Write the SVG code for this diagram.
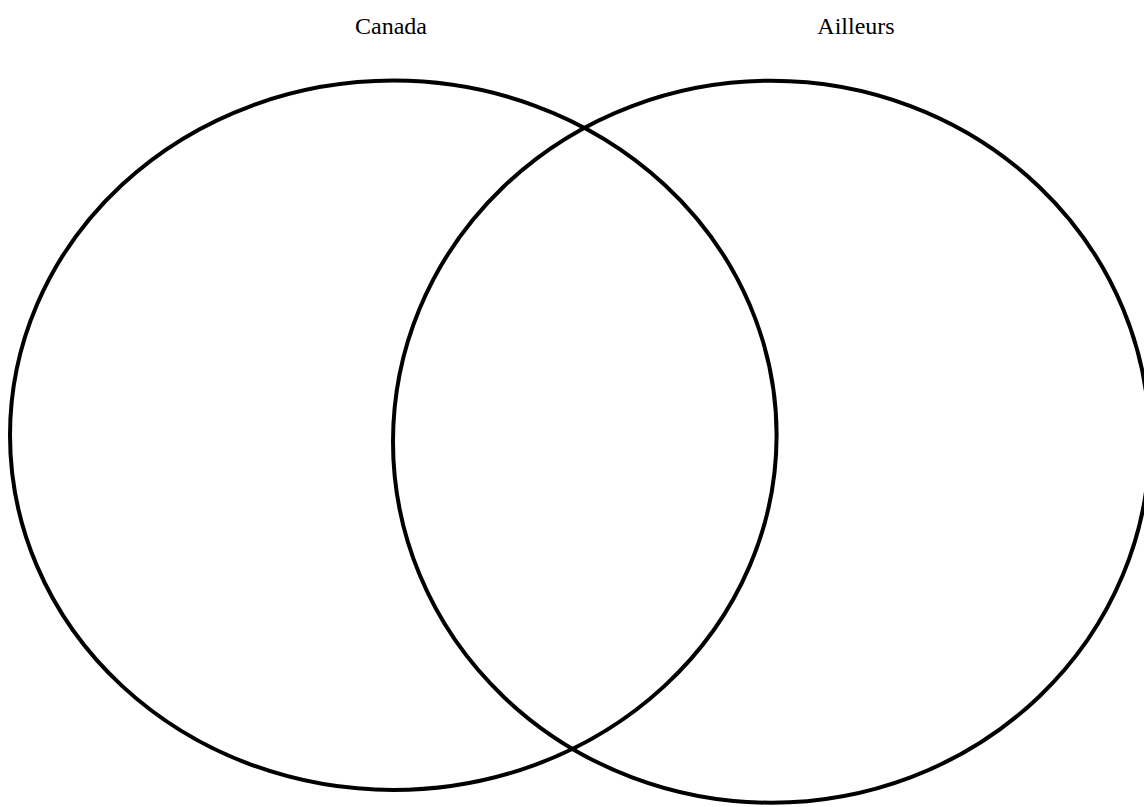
<svg xmlns="http://www.w3.org/2000/svg" width="1144" height="807" viewBox="0 0 1144 807">
<style>
.c{fill:none;stroke:#000;stroke-width:4}
.t{font-family:"Liberation Serif","Times New Roman",serif;font-size:24px;fill:#000;text-anchor:middle}
</style>
<rect width="1144" height="807" fill="#fff"/>
<g id="canada">
<ellipse class="c" cx="393.3" cy="435.3" rx="383.3" ry="354.7"/>
<text class="t" x="391" y="34">Canada</text>
</g>
<g id="ailleurs">
<ellipse class="c" cx="771.3" cy="441.7" rx="378.3" ry="361"/>
<text class="t" x="856" y="34">Ailleurs</text>
</g>
<g id="connectors"/>
</svg>
